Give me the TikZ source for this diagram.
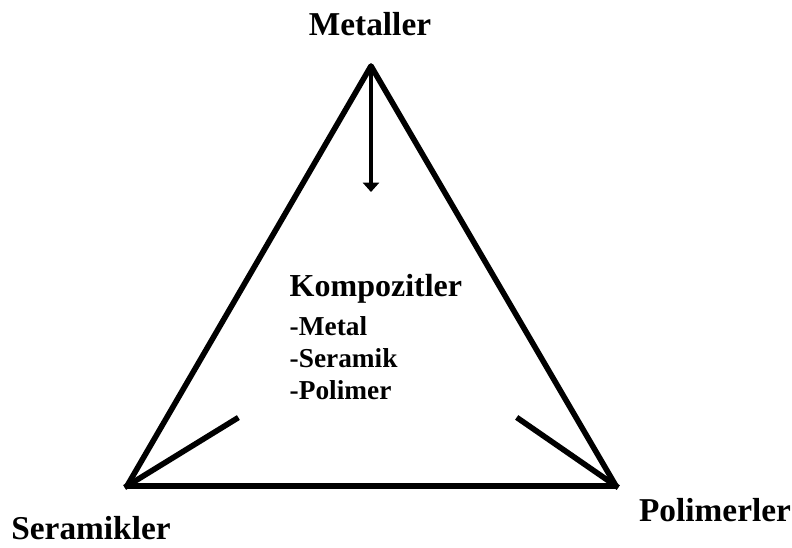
\documentclass[tikz,border=0pt]{standalone}
\usepackage{fontspec}
\setmainfont{Liberation Serif}
\usetikzlibrary{arrows.meta}
\begin{document}
\begin{tikzpicture}[x=0.75pt,y=-0.75pt,
  edge/.style={line width=4.2pt,line cap=round,line join=round},
  arr/.style={line width=3pt,-{Triangle[width=12pt,length=7pt]}},
  spoke/.style={line width=4.2pt,line cap=rect},
  big/.style={font=\bfseries\fontsize{25}{29}\selectfont},
  small/.style={font=\bfseries\fontsize{20.5}{24}\selectfont}]
\useasboundingbox (0,0) rectangle (792,547);
\coordinate (T) at (371,66);
\coordinate (L) at (127,486);
\coordinate (R) at (616,486);
\coordinate (Ta) at (371,192);
\coordinate (Le) at (236,419);
\coordinate (Re) at (519,419);
\draw[edge] (T) -- (L) -- (R) -- cycle;
\draw[arr] (T) -- (Ta);
\draw[spoke] (L) -- (Le);
\draw[spoke] (R) -- (Re);
\node[big] (m) at (370,24) {Metaller};
\node[big] (s) at (91,528) {Seramikler};
\node[big] (p) at (715,510) {Polimerler};
\node[font=\bfseries\fontsize{24}{28}\selectfont,anchor=west] (k) at (285,289) {Kompozitler};
\node[small,anchor=west] (k1) at (285,326) {-Metal};
\node[small,anchor=west] (k2) at (285,358) {-Seramik};
\node[small,anchor=west] (k3) at (285,390) {-Polimer};
\end{tikzpicture}
\end{document}
